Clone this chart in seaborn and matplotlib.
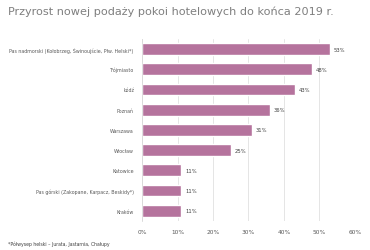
import matplotlib
matplotlib.use("Agg")
import matplotlib.pyplot as plt
import seaborn as sns
import pandas as pd

# Data
regions = [
    "Pas nadmorski (Kołobrzeg, Świnoujście, Płw. Helski*)",
    "Trójmiasto",
    "Łódź",
    "Poznań",
    "Warszawa",
    "Wrocław",
    "Katowice",
    "Pas górski (Zakopane, Karpacz, Beskidy*)",
    "Kraków",
]
growth = [53, 48, 43, 36, 31, 25, 11, 11, 11]

df = pd.DataFrame({"region": regions, "growth": growth})

sns.set_style("white")
fig = plt.figure(figsize=(3.7, 2.51), dpi=100)
ax = fig.add_axes([0.384, 0.116, 0.575, 0.725])

sns.barplot(data=df, x="growth", y="region", color="#b5739d", saturation=1,
            width=0.58, ax=ax)

ax.set_xlim(0, 60)
ax.set_xticks(range(0, 61, 10))
ax.set_xticklabels([f"{t}%" for t in range(0, 61, 10)], fontsize=4.2, color="#595959")
ax.tick_params(axis="y", labelsize=3.4, colors="#595959", length=0, pad=6)
ax.tick_params(axis="x", length=0, pad=6)
ax.set_xlabel("")
ax.set_ylabel("")
ax.grid(axis="x", color="#e0e0e0", linewidth=0.6)
ax.set_axisbelow(True)
for s in ["top", "right", "bottom"]:
    ax.spines[s].set_visible(False)
ax.spines["left"].set_color("#d9d9d9")
ax.spines["left"].set_linewidth(0.6)

for i, v in enumerate(growth):
    ax.text(v + 1.1, i, f"{v}%", va="center", ha="left", fontsize=3.8, color="#404040")

fig.text(0.022, 0.952, "Przyrost nowej podaży pokoi hotelowych do końca 2019 r.",
         fontsize=8.1, color="#7f7f7f", ha="left", va="center")
fig.text(0.022, 0.025, "*Półwysep helski – Jurata, Jastarnia, Chałupy",
         fontsize=3.3, color="#404040", ha="left", va="center")

fig.savefig("out.png", dpi=100)
